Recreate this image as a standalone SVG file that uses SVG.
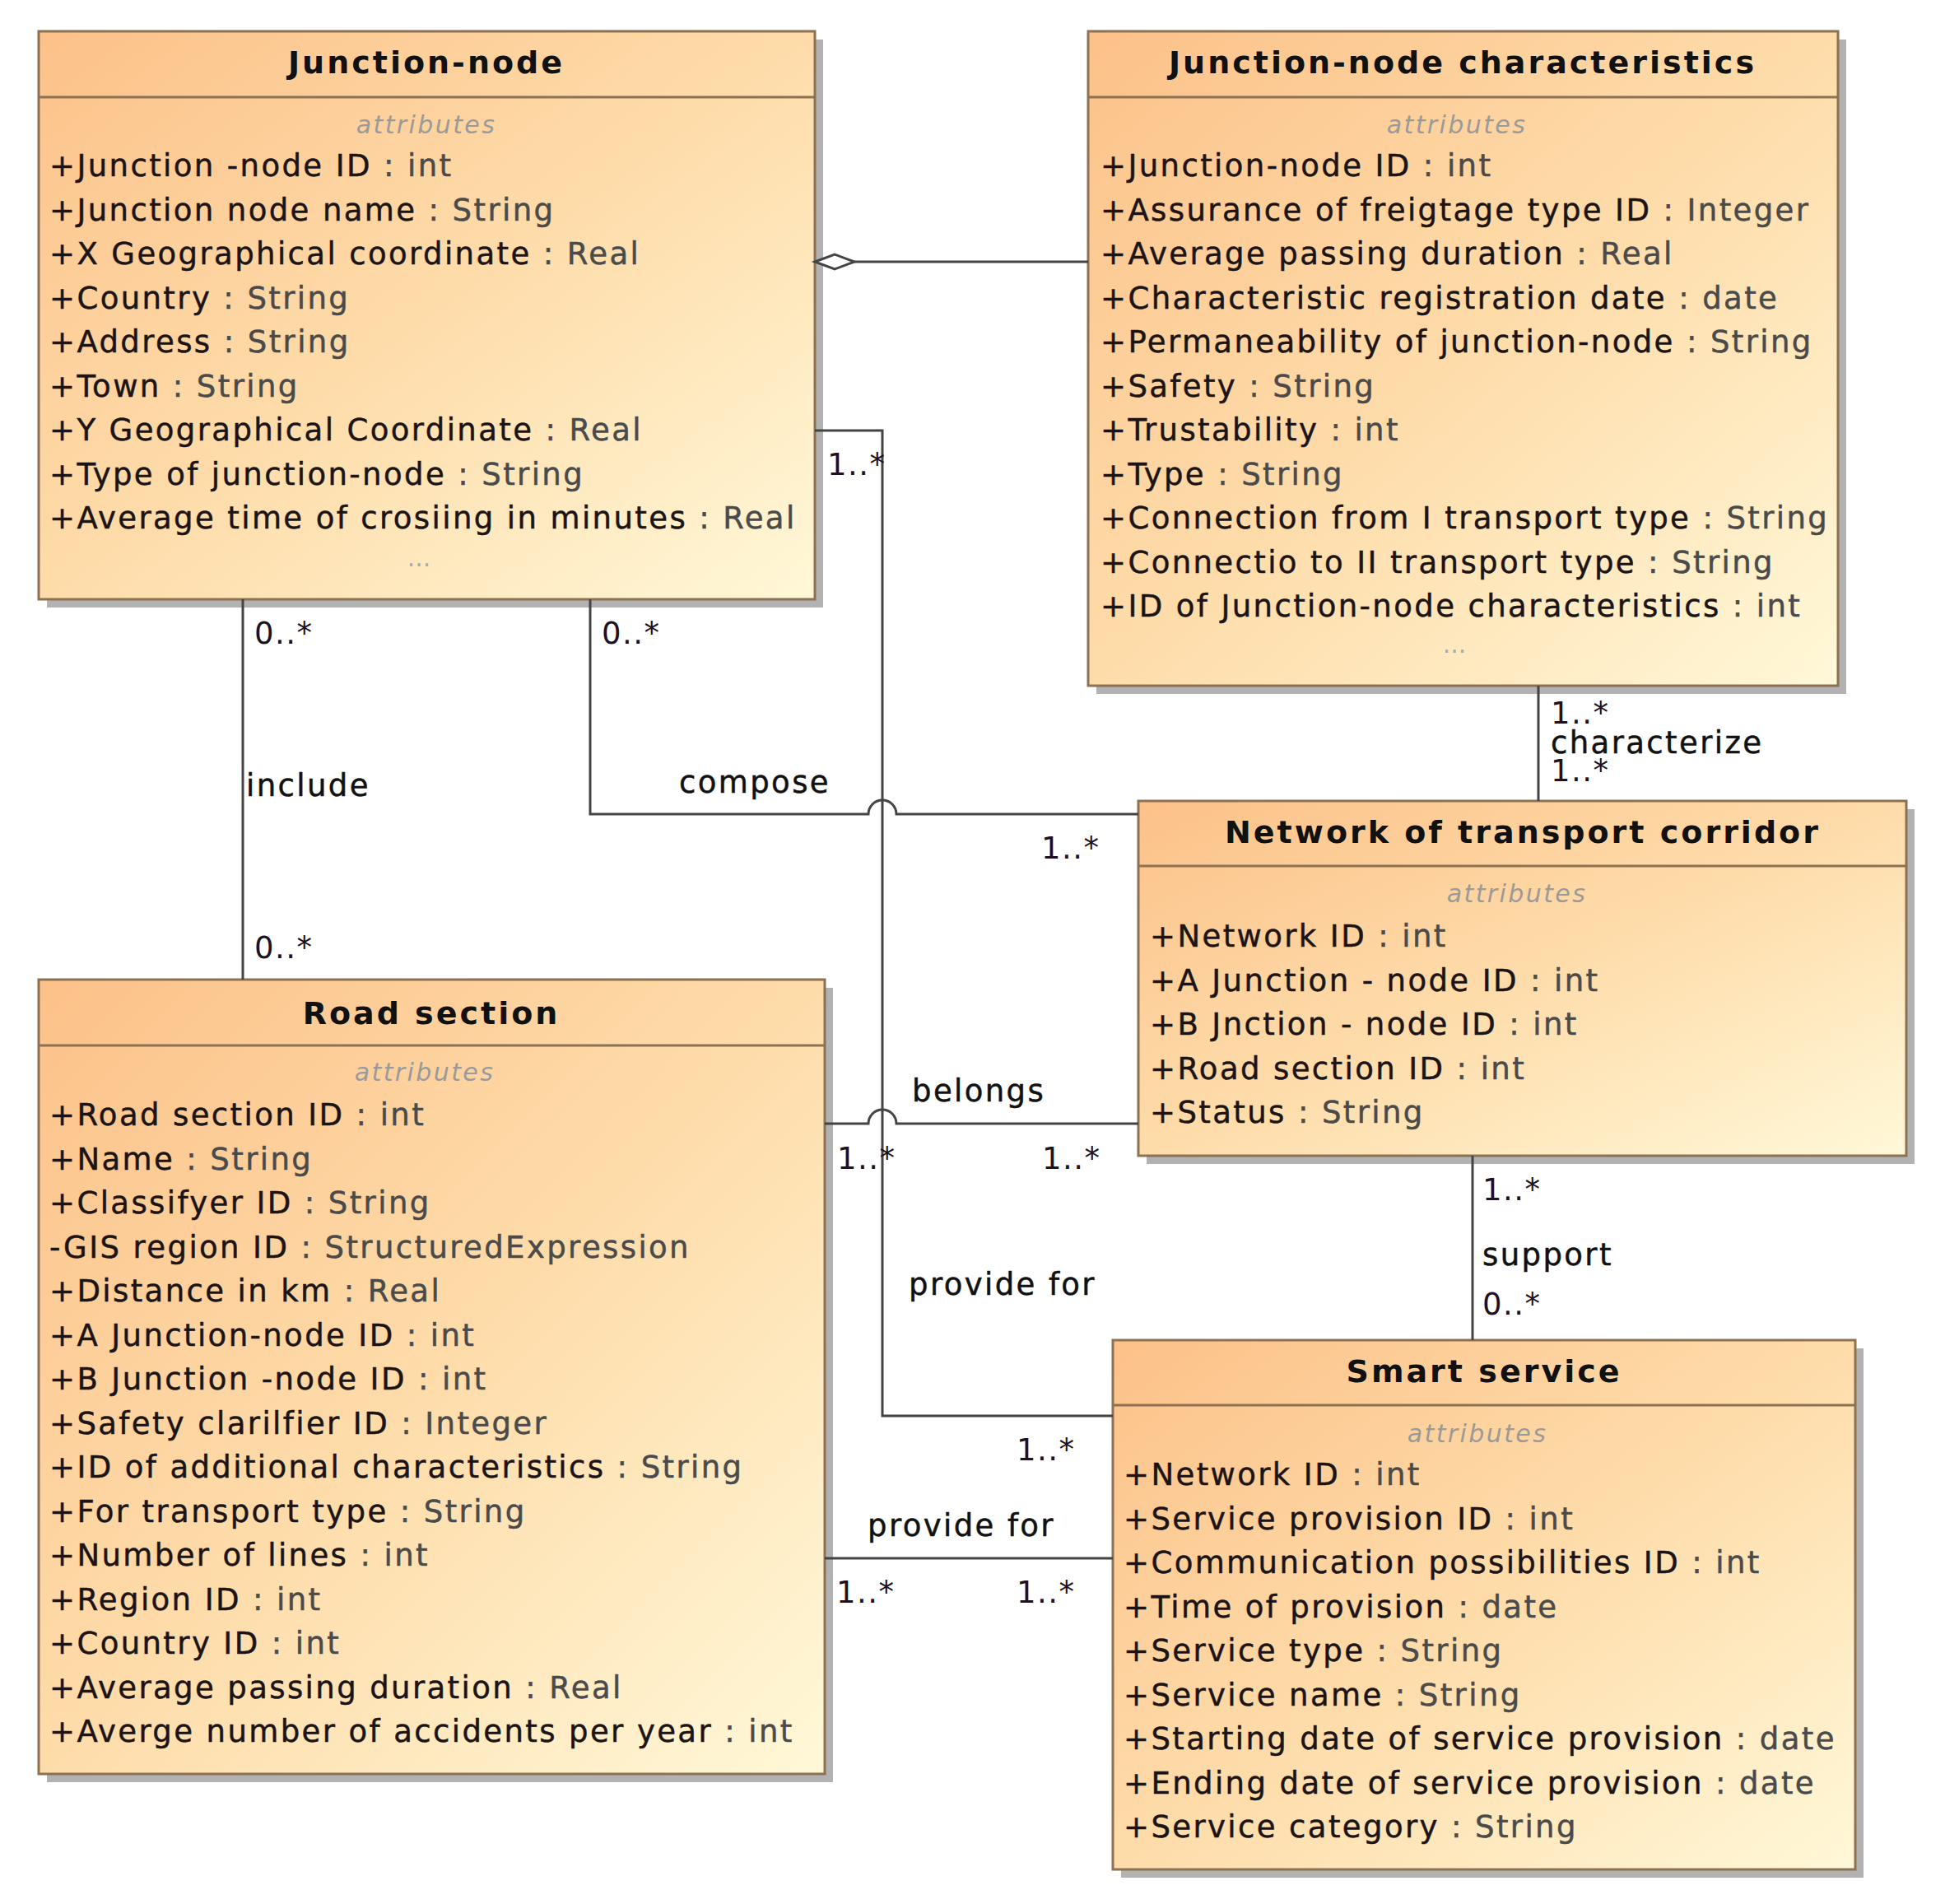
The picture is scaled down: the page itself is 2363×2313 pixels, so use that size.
<svg xmlns="http://www.w3.org/2000/svg" width="2363" height="2313" viewBox="0 0 2363 2313">
<defs>
<linearGradient id="g" x1="0" y1="0" x2="1" y2="1">
<stop offset="0" stop-color="#fcc189"/>
<stop offset="0.5" stop-color="#fedcaa"/>
<stop offset="1" stop-color="#fff8d8"/>
</linearGradient>
<style>
.shadow{fill:#b2b2b2}
.box{fill:url(#g);stroke:#8c7252;stroke-width:3}
.div{stroke:#8c7252;stroke-width:3}
.title{font-family:"DejaVu Sans",sans-serif;font-weight:bold;font-size:38px;letter-spacing:3px;text-anchor:middle;fill:#111}
.st{font-family:"DejaVu Sans",sans-serif;font-style:italic;font-size:30px;letter-spacing:2.4px;text-anchor:middle;fill:#9a9a9a}
.a{font-family:"DejaVu Sans",sans-serif;font-size:37px;letter-spacing:2.4px;fill:#1c1414;stroke:#1c1414;stroke-width:0.5}
.t{fill:#4a4a4a;stroke:#4a4a4a}
.dots{font-family:"DejaVu Sans",sans-serif;font-size:30px;text-anchor:middle;fill:#aaa}
.conn{stroke:#444;stroke-width:3;fill:none}
.lbl{font-family:"DejaVu Sans",sans-serif;font-size:37px;letter-spacing:2.4px;fill:#111;stroke:#111;stroke-width:0.5}
.m{font-family:"DejaVu Sans",sans-serif;font-size:37px;letter-spacing:1.5px;fill:#201020}
</style>
</defs>
<rect width="2363" height="2313" fill="#fff"/>

<g id="junction-node">
<rect class="shadow" x="57" y="48" width="943" height="690"/>
<rect class="box" x="47" y="38" width="943" height="690"/>
<line class="div" x1="47" y1="118" x2="990" y2="118"/>
<text class="title" x="518" y="89">Junction-node</text>
<text class="st" x="518" y="162">attributes</text>
<text class="a" x="60" y="214">+Junction -node ID<tspan class="t"> : int</tspan></text>
<text class="a" x="60" y="267.5">+Junction node name<tspan class="t"> : String</tspan></text>
<text class="a" x="60" y="321">+X Geographical coordinate<tspan class="t"> : Real</tspan></text>
<text class="a" x="60" y="374.5">+Country<tspan class="t"> : String</tspan></text>
<text class="a" x="60" y="428">+Address<tspan class="t"> : String</tspan></text>
<text class="a" x="60" y="481.5">+Town<tspan class="t"> : String</tspan></text>
<text class="a" x="60" y="535">+Y Geographical Coordinate<tspan class="t"> : Real</tspan></text>
<text class="a" x="60" y="588.5">+Type of junction-node<tspan class="t"> : String</tspan></text>
<text class="a" x="60" y="642">+Average time of crosiing in minutes<tspan class="t"> : Real</tspan></text>
<text class="dots" x="509" y="688">...</text>
</g>

<g id="junction-node-characteristics">
<rect class="shadow" x="1332" y="48" width="911" height="795"/>
<rect class="box" x="1322" y="38" width="911" height="795"/>
<line class="div" x1="1322" y1="118" x2="2233" y2="118"/>
<text class="title" x="1777" y="89">Junction-node characteristics</text>
<text class="st" x="1770" y="162">attributes</text>
<text class="a" x="1337" y="214">+Junction-node ID<tspan class="t"> : int</tspan></text>
<text class="a" x="1337" y="267.5">+Assurance of freigtage type ID<tspan class="t"> : Integer</tspan></text>
<text class="a" x="1337" y="321">+Average passing duration<tspan class="t"> : Real</tspan></text>
<text class="a" x="1337" y="374.5">+Characteristic registration date<tspan class="t"> : date</tspan></text>
<text class="a" x="1337" y="428">+Permaneability of junction-node<tspan class="t"> : String</tspan></text>
<text class="a" x="1337" y="481.5">+Safety<tspan class="t"> : String</tspan></text>
<text class="a" x="1337" y="535">+Trustability<tspan class="t"> : int</tspan></text>
<text class="a" x="1337" y="588.5">+Type<tspan class="t"> : String</tspan></text>
<text class="a" x="1337" y="642">+Connection from I transport type<tspan class="t"> : String</tspan></text>
<text class="a" x="1337" y="695.5">+Connectio to II transport type<tspan class="t"> : String</tspan></text>
<text class="a" x="1337" y="749">+ID of Junction-node characteristics<tspan class="t"> : int</tspan></text>
<text class="dots" x="1767" y="793">...</text>
</g>

<g id="network-of-transport-corridor">
<rect class="shadow" x="1393" y="983" width="933" height="431"/>
<rect class="box" x="1383" y="973" width="933" height="431"/>
<line class="div" x1="1383" y1="1052" x2="2316" y2="1052"/>
<text class="title" x="1850" y="1024">Network of transport corridor</text>
<text class="st" x="1843" y="1096">attributes</text>
<text class="a" x="1397" y="1150">+Network ID<tspan class="t"> : int</tspan></text>
<text class="a" x="1397" y="1203.5">+A Junction - node ID<tspan class="t"> : int</tspan></text>
<text class="a" x="1397" y="1257">+B Jnction - node ID<tspan class="t"> : int</tspan></text>
<text class="a" x="1397" y="1310.5">+Road section ID<tspan class="t"> : int</tspan></text>
<text class="a" x="1397" y="1364">+Status<tspan class="t"> : String</tspan></text>
</g>

<g id="road-section">
<rect class="shadow" x="57" y="1200" width="955" height="965"/>
<rect class="box" x="47" y="1190" width="955" height="965"/>
<line class="div" x1="47" y1="1270" x2="1002" y2="1270"/>
<text class="title" x="524" y="1244">Road section</text>
<text class="st" x="516" y="1313">attributes</text>
<text class="a" x="60" y="1367">+Road section ID<tspan class="t"> : int</tspan></text>
<text class="a" x="60" y="1420.5">+Name<tspan class="t"> : String</tspan></text>
<text class="a" x="60" y="1474">+Classifyer ID<tspan class="t"> : String</tspan></text>
<text class="a" x="60" y="1527.5">-GIS region ID<tspan class="t"> : StructuredExpression</tspan></text>
<text class="a" x="60" y="1581">+Distance in km<tspan class="t"> : Real</tspan></text>
<text class="a" x="60" y="1634.5">+A Junction-node ID<tspan class="t"> : int</tspan></text>
<text class="a" x="60" y="1688">+B Junction -node ID<tspan class="t"> : int</tspan></text>
<text class="a" x="60" y="1741.5">+Safety clarilfier ID<tspan class="t"> : Integer</tspan></text>
<text class="a" x="60" y="1795">+ID of additional characteristics<tspan class="t"> : String</tspan></text>
<text class="a" x="60" y="1848.5">+For transport type<tspan class="t"> : String</tspan></text>
<text class="a" x="60" y="1902">+Number of lines<tspan class="t"> : int</tspan></text>
<text class="a" x="60" y="1955.5">+Region ID<tspan class="t"> : int</tspan></text>
<text class="a" x="60" y="2009">+Country ID<tspan class="t"> : int</tspan></text>
<text class="a" x="60" y="2062.5">+Average passing duration<tspan class="t"> : Real</tspan></text>
<text class="a" x="60" y="2116">+Averge number of accidents per year<tspan class="t"> : int</tspan></text>
</g>

<g id="smart-service">
<rect class="shadow" x="1362" y="1638" width="902" height="643"/>
<rect class="box" x="1352" y="1628" width="902" height="643"/>
<line class="div" x1="1352" y1="1707" x2="2254" y2="1707"/>
<text class="title" x="1803" y="1679">Smart service</text>
<text class="st" x="1795" y="1752">attributes</text>
<text class="a" x="1365" y="1804">+Network ID<tspan class="t"> : int</tspan></text>
<text class="a" x="1365" y="1857.5">+Service provision ID<tspan class="t"> : int</tspan></text>
<text class="a" x="1365" y="1911">+Communication possibilities ID<tspan class="t"> : int</tspan></text>
<text class="a" x="1365" y="1964.5">+Time of provision<tspan class="t"> : date</tspan></text>
<text class="a" x="1365" y="2018">+Service type<tspan class="t"> : String</tspan></text>
<text class="a" x="1365" y="2071.5">+Service name<tspan class="t"> : String</tspan></text>
<text class="a" x="1365" y="2125">+Starting date of service provision<tspan class="t"> : date</tspan></text>
<text class="a" x="1365" y="2178.5">+Ending date of service provision<tspan class="t"> : date</tspan></text>
<text class="a" x="1365" y="2232">+Service category<tspan class="t"> : String</tspan></text>
</g>

<g id="connectors">
<path class="conn" d="M1038 318 L1322 318"/>
<polygon points="990,318 1014,309 1038,318 1014,327" fill="#fff" stroke="#444" stroke-width="3"/>
<path class="conn" d="M990 523 L1072 523 L1072 1720 L1352 1720"/>
<path class="conn" d="M295 728 L295 1190"/>
<path class="conn" d="M717 728 L717 989 L1055 989 A17 17 0 0 1 1089 989 L1383 989"/>
<path class="conn" d="M1869 833 L1869 973"/>
<path class="conn" d="M1002 1365 L1055 1365 A17 17 0 0 1 1089 1365 L1383 1365"/>
<path class="conn" d="M1789 1404 L1789 1628"/>
<path class="conn" d="M1002 1893 L1352 1893"/>

<text class="m" x="1005" y="577">1..*</text>
<text class="m" x="1235" y="1774">1..*</text>
<text class="lbl" x="1104" y="1573">provide for</text>

<text class="m" x="309" y="782">0..*</text>
<text class="lbl" x="299" y="967">include</text>
<text class="m" x="309" y="1164">0..*</text>

<text class="m" x="731" y="782">0..*</text>
<text class="lbl" x="825" y="963">compose</text>
<text class="m" x="1265" y="1043">1..*</text>

<text class="m" x="1884" y="879">1..*</text>
<text class="lbl" x="1884" y="915">characterize</text>
<text class="m" x="1884" y="949">1..*</text>

<text class="lbl" x="1108" y="1338">belongs</text>
<text class="m" x="1017" y="1420">1..*</text>
<text class="m" x="1266" y="1420">1..*</text>

<text class="m" x="1801" y="1458">1..*</text>
<text class="lbl" x="1801" y="1537">support</text>
<text class="m" x="1801" y="1597">0..*</text>

<text class="lbl" x="1054" y="1866">provide for</text>
<text class="m" x="1016" y="1947">1..*</text>
<text class="m" x="1235" y="1947">1..*</text>
</g>
</svg>
